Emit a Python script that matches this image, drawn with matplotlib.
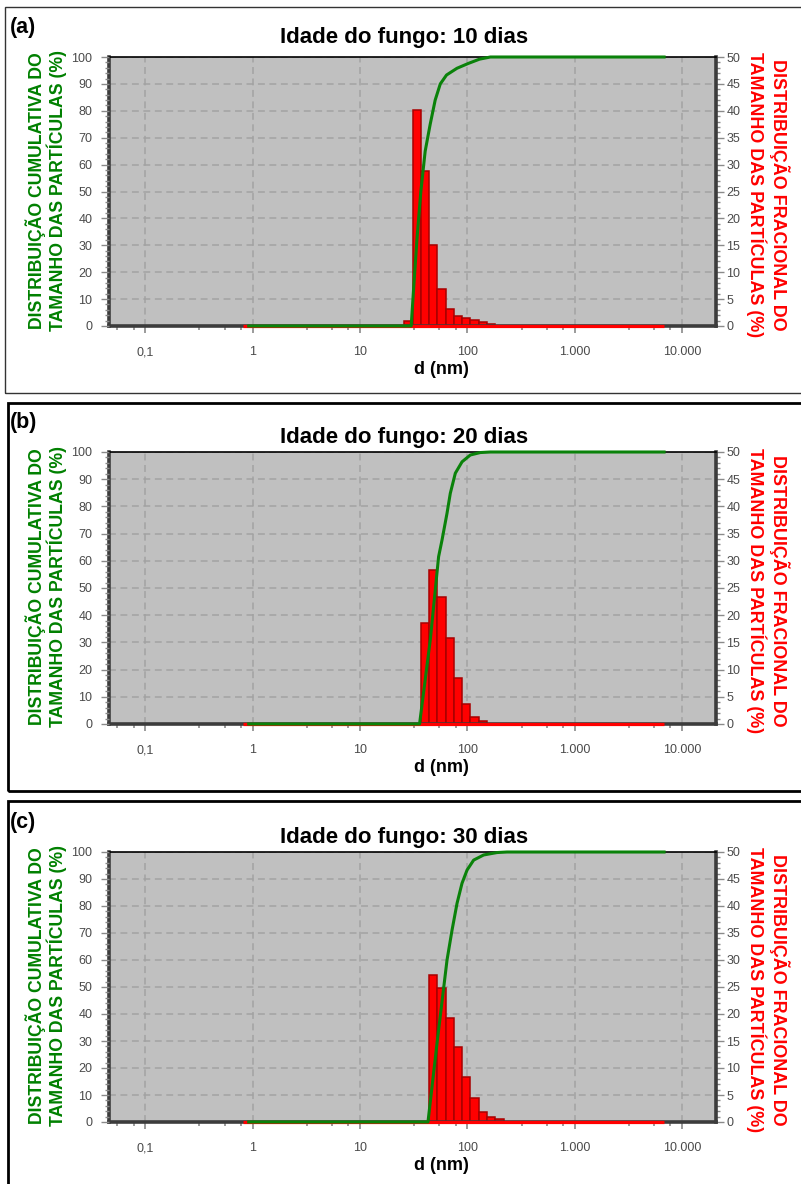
import matplotlib
matplotlib.use("Agg")
import matplotlib.pyplot as plt
from matplotlib.patches import Rectangle
from matplotlib.ticker import FixedLocator, MultipleLocator, NullFormatter

plt.rcParams["font.family"] = ["Liberation Sans", "DejaVu Sans"]

W, H = 801, 1184

# shared size classes (nm), left edge of each bin plus the last right edge
BIN_EDGES_NM = [25.9, 30.9, 36.9, 44.1, 52.6, 62.8, 75.0, 89.6, 107.0,
                127.8, 152.6, 182.2, 217.5, 259.7]

# fractional distribution (%) per panel, starting at the given bin
A_FIRST_BIN = 0
A_FRAC = [1.0, 40.2, 28.9, 15.0, 6.8, 3.1, 1.9, 1.5, 1.2, 0.7, 0.4]
B_FIRST_BIN = 2
B_FRAC = [18.6, 28.3, 23.4, 15.9, 8.4, 3.6, 1.35, 0.5]
C_FIRST_BIN = 3
C_FRAC = [27.3, 24.8, 19.2, 13.8, 8.4, 4.4, 1.9, 0.87, 0.55]

# cumulative curves (d in nm, %)
A_CUM_D = [0.92, 30.0, 31.5, 33.9, 36.9, 40.5, 45.1, 50.2, 56.0, 64.0, 80.0, 102, 130, 164, 6800]
A_CUM_P = [0, 0, 13, 32, 50, 65, 75, 84, 90, 93.3, 95.8, 97.6, 99.2, 100, 100]
B_CUM_D = [0.92, 35.9, 45.2, 54.0, 58.1, 64.7, 69.4, 77.3, 89.3, 106.7, 132, 164, 6800]
B_CUM_P = [0, 0, 31, 61.5, 67.6, 77.5, 84.8, 92.2, 96.4, 98.9, 99.8, 100, 100]
C_CUM_D = [0.92, 43.0, 52.5, 64.7, 72.0, 80.2, 89.2, 99.4, 114.5, 141.9, 189.2, 234, 6800]
C_CUM_P = [0, 0, 30, 60, 71, 81, 88.4, 93.3, 97, 98.9, 99.8, 100, 100]

BASELINE_D = [0.81, 6800]

X_TICKS = [0.1, 1, 10, 100, 1000, 10000]
X_TICK_LABELS = ["0,1", "1", "10", "100", "1.000", "10.000"]
X_MINOR = [d * m for d in [0.01, 0.1, 1, 10, 100, 1000] for m in (3.2, 5.5, 7.8)]

TITLES = ["Idade do fungo: 10 dias", "Idade do fungo: 20 dias", "Idade do fungo: 30 dias"]
TAGS = ["(a)", "(b)", "(c)"]
LEFT_LABEL = "DISTRIBUIÇÃO CUMULATIVA DO\nTAMANHO DAS PARTÍCULAS (%)"
RIGHT_LABEL = "DISTRIBUIÇÃO FRACIONAL DO\nTAMANHO DAS PARTÍCULAS (%)"

GREEN = "#0a820a"
LABEL_GREEN = "#008000"
RED = "#ff0000"
TICK_GRAY = "#8a8a8a"
LABEL_GRAY = "#4a4a4a"
NARROW = ["Liberation Sans Narrow", "Liberation Sans", "DejaVu Sans"]

fig = plt.figure(figsize=(W / 100, H / 100), dpi=100)


def fx(x):
    return x / W


def fy(y):
    return 1 - y / H


def draw_panel(top, bottom, first_bin, frac, cum_d, cum_p, title, tag, box, text_y):
    left, right = 109, 716
    rect = [fx(left), fy(bottom), (right - left) / W, (bottom - top) / H]

    ax = fig.add_axes(rect)
    ax2 = ax.twinx()

    ax.set_xscale("log")
    ax.set_xlim(0.046, 20700)
    ax.set_ylim(0, 50)
    ax.set_facecolor("#c0c0c0")
    ax.set_axisbelow(True)
    ax.grid(True, which="major", color="#a2a2a2", linewidth=1.1, linestyle=(0, (4.5, 3)))

    edges = BIN_EDGES_NM[first_bin:first_bin + len(frac) + 1]
    lefts = edges[:-1]
    widths = [b - a for a, b in zip(edges[:-1], edges[1:])]
    ax.bar(lefts, frac, width=widths, align="edge", color=RED,
           edgecolor="#a80000", linewidth=1.1, zorder=2)
    ax.plot(BASELINE_D, [0, 0], color=RED, linewidth=2.3, clip_on=False,
            solid_capstyle="butt", zorder=3)

    for side in ["left", "bottom", "right"]:
        ax.spines[side].set_color("#3c3c3c")
        ax.spines[side].set_linewidth(2.6)
    ax.spines["top"].set_color("black")
    ax.spines["top"].set_linewidth(1.2)
    for s in ax2.spines.values():
        s.set_visible(False)

    ax.xaxis.set_major_locator(FixedLocator(X_TICKS))
    ax.xaxis.set_minor_locator(FixedLocator(X_MINOR))
    ax.set_xticklabels(X_TICK_LABELS)
    ax.xaxis.set_minor_formatter(NullFormatter())
    ax.tick_params(axis="x", which="major", length=5, width=1.2, color=TICK_GRAY,
                   labelcolor=LABEL_GRAY, labelsize=9, pad=9.5)
    ax.tick_params(axis="x", which="minor", length=3, width=1.2, color=TICK_GRAY)

    ax.yaxis.tick_right()
    ax.yaxis.set_major_locator(MultipleLocator(5))
    ax.yaxis.set_minor_locator(MultipleLocator(1))
    ax.tick_params(axis="y", which="major", length=6, width=1, color=TICK_GRAY,
                   labelcolor=LABEL_GRAY, labelsize=9, pad=1.5)
    ax.tick_params(axis="y", which="minor", length=3, width=1, color=TICK_GRAY)
    for t in ax.get_yticklabels():
        t.set_family(NARROW)

    ax2.set_ylim(0, 100)
    ax2.yaxis.tick_left()
    ax2.yaxis.set_major_locator(MultipleLocator(10))
    ax2.yaxis.set_minor_locator(MultipleLocator(2))
    ax2.tick_params(axis="y", which="major", length=6, width=1, color=TICK_GRAY,
                    labelcolor=LABEL_GRAY, labelsize=9, pad=6)
    ax2.tick_params(axis="y", which="minor", length=3, width=1, color=TICK_GRAY)
    for t in ax2.get_yticklabels():
        t.set_family(NARROW)
    ax2.plot(cum_d, cum_p, color=GREEN, linewidth=2.2, clip_on=False,
             solid_joinstyle="round", zorder=3)

    # panel frame
    bx0, by0, bx1, by1, blw, bcol = box
    fig.patches.append(Rectangle((fx(bx0), fy(by1)), fx(bx1 - bx0), (by1 - by0) / H,
                                 transform=fig.transFigure, fill=False,
                                 linewidth=blw, edgecolor=bcol))

    tag_y, title_y, xlabel_y = text_y
    fig.text(fx(10), fy(tag_y), tag, fontsize=15.5, fontweight="bold", ha="left", va="baseline")
    fig.text(fx(404), fy(title_y), title, fontsize=16, fontweight="bold", ha="center", va="baseline")
    fig.text(fx(441), fy(xlabel_y), "d (nm)", fontsize=13, fontweight="bold", ha="center", va="baseline")

    mid = (top + bottom) / 2
    fig.text(fx(46), fy(mid - 1), LEFT_LABEL, rotation=90, color=LABEL_GREEN, fontsize=12.7,
             fontweight="bold", ha="center", va="center", multialignment="center", linespacing=1.02)
    fig.text(fx(768), fy(mid + 3), RIGHT_LABEL, rotation=270, color=RED, fontsize=12.9,
             fontweight="bold", ha="center", va="center", multialignment="center", linespacing=1.15)


draw_panel(57, 326, A_FIRST_BIN, A_FRAC, A_CUM_D, A_CUM_P, TITLES[0], TAGS[0],
           (5, 7, 810, 393, 1.0, "#333333"), (33, 43, 374))
draw_panel(452, 724, B_FIRST_BIN, B_FRAC, B_CUM_D, B_CUM_P, TITLES[1], TAGS[1],
           (8, 403, 810, 791, 2.0, "black"), (428, 443, 772))
draw_panel(852, 1122, C_FIRST_BIN, C_FRAC, C_CUM_D, C_CUM_P, TITLES[2], TAGS[2],
           (8, 801, 810, 1190, 2.0, "black"), (828, 843, 1170))

fig.savefig("out.png", dpi=100)
